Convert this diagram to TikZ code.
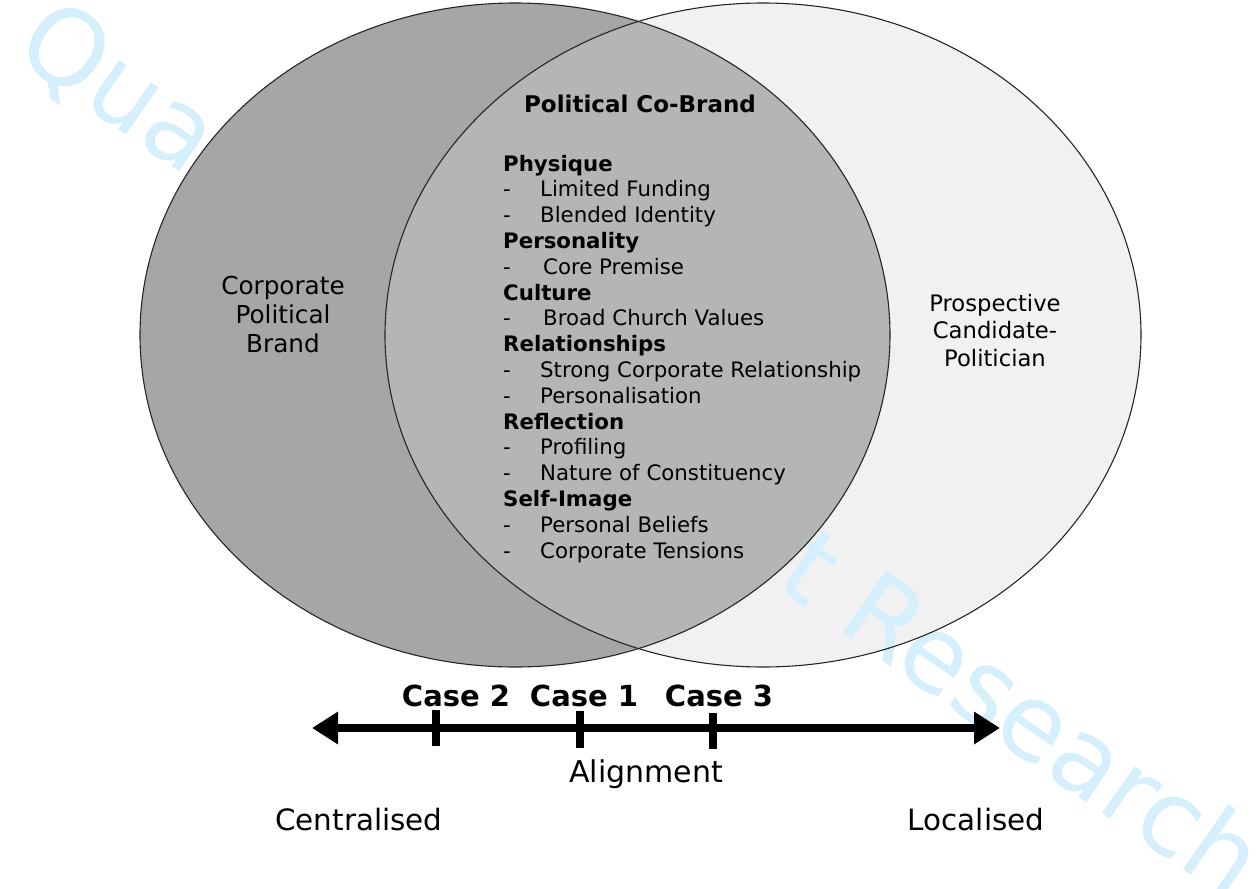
\documentclass[tikz,border=0pt]{standalone}
\usepackage{fontspec}
\setmainfont{DejaVu Sans}
\usetikzlibrary{arrows.meta}
\definecolor{darkfill}{HTML}{A6A6A6}
\definecolor{lensfill}{HTML}{B5B5B5}
\definecolor{lightfill}{HTML}{F1F1F1}
\definecolor{wmark}{HTML}{D6EFFC}
\tikzset{
  outline/.style={draw=black!85, line width=1.1pt},
  lbl/.style={inner sep=0pt, align=center, anchor=base},
  casel/.style={inner sep=0pt, anchor=base, font=\bfseries\fontsize{29}{34}\selectfont},
  axisline/.style={line width=8pt, {Triangle[length=26pt,width=31pt]}-{Triangle[length=26pt,width=31pt]}},
  tickmark/.style={line width=8pt},
}
\newcommand{\itm}[1]{\makebox[37pt][l]{-}#1}
\newcommand{\itmb}[1]{\makebox[40pt][l]{-}#1}
\begin{document}
\begin{tikzpicture}[x=1pt,y=-1pt]
\useasboundingbox (0,0) rectangle (1259,889);
% right ellipse
\fill[lightfill] (763,335) ellipse [x radius=378, y radius=332];
% watermark
\node[text=wmark, rotate=-34.8, inner sep=0pt, font=\fontsize{105}{110}\selectfont] (wm) at (640,452) {Qualitative Market Research};
% left ellipse
\fill[darkfill] (515,335) ellipse [x radius=375, y radius=332];
% lens
\begin{scope}
  \clip (515,335) ellipse [x radius=375, y radius=332];
  \fill[lensfill] (763,335) ellipse [x radius=378, y radius=332];
\end{scope}
\draw[outline] (515,335) ellipse [x radius=375, y radius=332];
\draw[outline] (763,335) ellipse [x radius=378, y radius=332];

% labels (base anchor = baseline of last line)
\node[lbl, font=\fontsize{24.7}{29}\selectfont] (corp) at (283,352) {Corporate\\Political\\Brand};
\node[lbl, font=\fontsize{22.7}{27.5}\selectfont] (cand) at (995,366) {Prospective\\Candidate-\\Politician};
\node[lbl, font=\bfseries\fontsize{23}{27}\selectfont] (cobrand) at (640,112) {Political Co-Brand};

\node[inner sep=0pt, align=left, anchor=base west, font=\fontsize{21.3}{25.8}\selectfont] (list) at (503,558) {%
\textbf{Physique}\\
\itm{Limited Funding}\\
\itm{Blended Identity}\\
\textbf{Personality}\\
\itmb{Core Premise}\\
\textbf{Culture}\\
\itmb{Broad Church Values}\\
\textbf{Relationships}\\
\itm{Strong Corporate Relationship}\\
\itm{Personalisation}\\
\textbf{Reflection}\\
\itm{Profiling}\\
\itm{Nature of Constituency}\\
\textbf{Self-Image}\\
\itm{Personal Beliefs}\\
\itm{Corporate Tensions}};

% axis
\coordinate (axL) at (312,728);
\coordinate (axR) at (1000,728);
\draw[axisline] (axL) -- (axR);
\draw[tickmark] (436,710) -- (436,746);
\draw[tickmark] (580,711) -- (580,748);
\draw[tickmark] (713,713) -- (713,749);

\node[casel] (c2) at (456,706) {Case 2};
\node[casel] (c1) at (584,706) {Case 1};
\node[casel] (c3) at (719,706) {Case 3};

\node[lbl, font=\fontsize{30}{34}\selectfont] (align) at (646,782) {Alignment};
\node[lbl, font=\fontsize{29.4}{34}\selectfont] (cent) at (359,830) {Centralised};
\node[lbl, font=\fontsize{29.4}{34}\selectfont] (loc) at (976,830) {Localised};
\end{tikzpicture}
\end{document}
